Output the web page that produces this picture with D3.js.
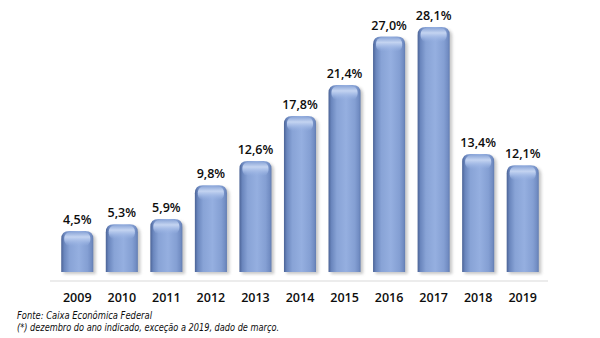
<!DOCTYPE html>
<html>
<head>
<meta charset="utf-8">
<script src="https://cdn.jsdelivr.net/npm/d3@7"></script>
<style>
  html, body { margin: 0; padding: 0; background: #ffffff; }
  svg { display: block; }
</style>
</head>
<body>
<svg id="chart" width="600" height="338"></svg>
<script>
// Share of values by year (%)
const years = ["2009", "2010", "2011", "2012", "2013", "2014", "2015", "2016", "2017", "2018", "2019"];
const values = [4.5, 5.3, 5.9, 9.8, 12.6, 17.8, 21.4, 27.0, 28.1, 13.4, 12.1];
const sourceLines = [
  "Fonte: Caixa Econômica Federal",
  "(*) dezembro do ano indicado, exceção a 2019, dado de março."
];

const data = years.map((y, i) => ({ year: y, value: values[i] }));
const fmt = v => d3.format(".1f")(v).replace(".", ",") + "%";

const svg = d3.select("#chart");
const defs = svg.append("defs");

// Body gradient: shaded left edge, lit middle, soft right edge
const body = defs.append("linearGradient").attr("id", "barBody")
  .attr("x1", "0%").attr("x2", "100%").attr("y1", "0%").attr("y2", "0%");
[["0%", "#4b6396"], ["9%", "#6a86bd"], ["26%", "#88a3d6"], ["55%", "#95afe0"],
 ["82%", "#849fd3"], ["94%", "#728dc3"], ["100%", "#627db2"]]
  .forEach(([o, c]) => body.append("stop").attr("offset", o).attr("stop-color", c));

// Top cap highlight
const cap = defs.append("linearGradient").attr("id", "barCap")
  .attr("x1", "0%").attr("x2", "0%").attr("y1", "0%").attr("y2", "100%");
[["0%", "#8ea8d9", 1], ["35%", "#c4d4f1", 1], ["60%", "#a9bfe8", 0.9], ["100%", "#98b2e3", 0]]
  .forEach(([o, c, a]) => cap.append("stop").attr("offset", o).attr("stop-color", c).attr("stop-opacity", a));

// Soft drop shadow
const sh = defs.append("filter").attr("id", "shadow")
  .attr("x", "-30%").attr("y", "-10%").attr("width", "160%").attr("height", "130%");
sh.append("feGaussianBlur").attr("stdDeviation", 1.6);

const x = d3.scaleBand().domain(years).range([55, 545]).paddingInner(0.28).paddingOuter(0.14);
const y = d3.scaleLinear().domain([0, 28.1]).range([270, 27]);
const barBottom = 272;
const r = 8;

// Rounded-top bar path
function barPath(x0, w, top, bottom) {
  return `M${x0},${bottom} L${x0},${top + r} Q${x0},${top} ${x0 + r},${top} ` +
         `L${x0 + w - r},${top} Q${x0 + w},${top} ${x0 + w},${top + r} L${x0 + w},${bottom} Z`;
}

// Baseline
svg.append("line")
  .attr("x1", 50).attr("x2", 548).attr("y1", 281).attr("y2", 281)
  .attr("stroke", "#d9d9d9").attr("stroke-width", 1);

const g = svg.append("g").selectAll("g").data(data).join("g");

g.append("path")
  .attr("d", d => barPath(x(d.year) + 2.5, x.bandwidth(), y(d.value) + 2, barBottom + 2))
  .attr("fill", "#9a9a9a").attr("opacity", 0.55).attr("filter", "url(#shadow)");

g.append("path")
  .attr("d", d => barPath(x(d.year), x.bandwidth(), y(d.value), barBottom))
  .attr("fill", "url(#barBody)");

g.append("rect")
  .attr("x", d => x(d.year) + 3)
  .attr("y", d => y(d.value) + 1)
  .attr("width", x.bandwidth() - 6)
  .attr("height", 14)
  .attr("rx", 6)
  .attr("fill", "url(#barCap)");

// Value labels
g.append("text")
  .attr("x", d => x(d.year) + x.bandwidth() / 2)
  .attr("y", d => y(d.value) - 7)
  .attr("text-anchor", "middle")
  .attr("font-family", "'Open Sans', sans-serif")
  .attr("font-weight", 600)
  .attr("font-size", 12.5)
  .attr("fill", "#0d0d0d")
  .text(d => fmt(d.value));

// Year axis
const axis = svg.append("g").attr("transform", "translate(0,302)")
  .call(d3.axisBottom(x).tickSize(0).tickPadding(0));
axis.select(".domain").remove();
axis.selectAll("text")
  .attr("dy", 0)
  .attr("font-family", "'Open Sans', sans-serif")
  .attr("font-weight", 600)
  .attr("font-size", 12.5)
  .attr("fill", "#0d0d0d");

// Source notes
svg.append("g").selectAll("text").data(sourceLines).join("text")
  .attr("x", 17)
  .attr("y", (d, i) => 319 + i * 12)
  .attr("font-family", "'Liberation Sans Narrow', 'DejaVu Sans Condensed', sans-serif")
  .attr("font-style", "italic")
  .attr("font-size", 10.5)
  .attr("fill", "#0d0d0d")
  .attr("textLength", (d, i) => i === 0 ? 135 : 262)
  .attr("lengthAdjust", "spacingAndGlyphs")
  .text(d => d);
</script>
</body>
</html>
